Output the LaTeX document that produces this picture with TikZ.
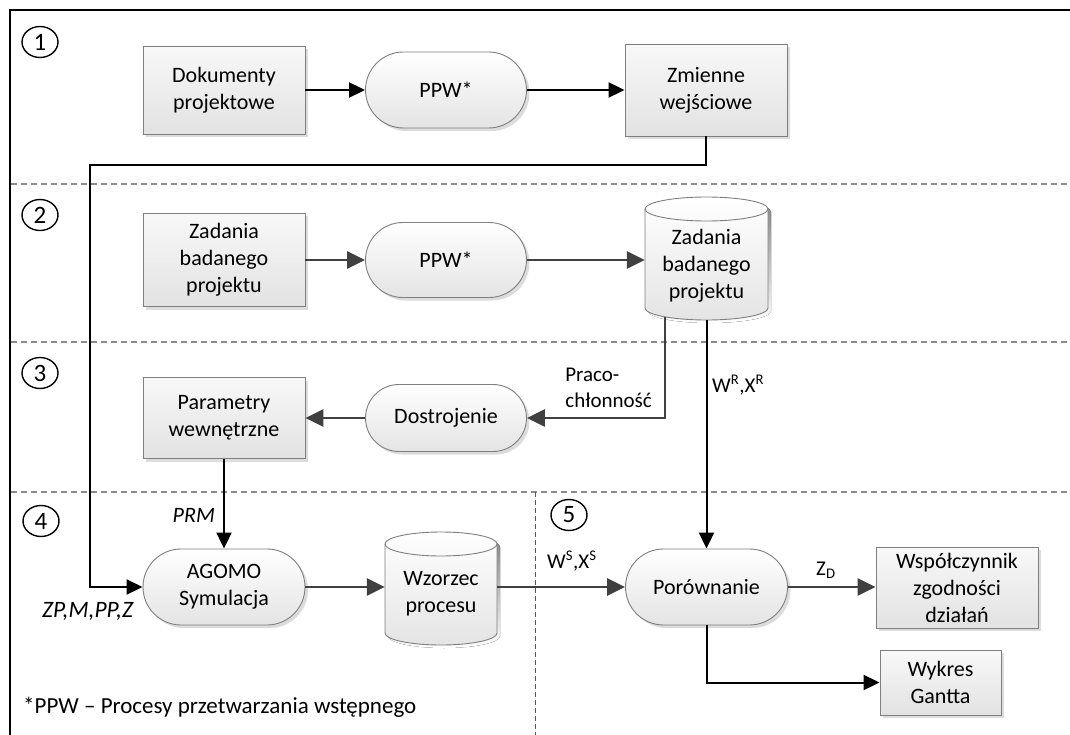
\documentclass[tikz,border=0pt]{standalone}
\usepackage{fontspec}
\setmainfont{Carlito}
\usetikzlibrary{arrows.meta,shapes.misc,shapes.geometric,shadows}

\definecolor{edge}{HTML}{7F7F7F}
\definecolor{flowgray}{HTML}{404040}
\definecolor{sep}{HTML}{8C8C8C}
\definecolor{boxtop}{HTML}{F8F8F8}
\definecolor{boxbot}{HTML}{E2E2E2}
\definecolor{termbot}{HTML}{E4E4E4}
\definecolor{shade}{HTML}{DCDCDC}

\tikzset{
  every node/.style={font=\fontsize{22}{27}\selectfont},
  softshadow/.style={drop shadow={shadow xshift=3pt, shadow yshift=-3pt, fill=shade, opacity=1}},
  procbox/.style={rectangle, draw=edge, line width=0.9pt, top color=boxtop, bottom color=boxbot,
    align=center, inner sep=0pt, softshadow},
  term/.style={rounded rectangle, draw=edge, line width=0.9pt, top color=white, bottom color=termbot,
    align=center, inner sep=0pt, softshadow},
  drum/.style={draw=edge, line width=0.9pt, top color=white, bottom color=termbot},
  anchorbox/.style={rectangle, inner sep=0pt},
  dataflow/.style={draw=flowgray, line width=2.8pt, -{Triangle[length=18pt,width=17pt]}},
  ctrlflow/.style={draw=black, line width=2pt, -{Triangle[length=16pt,width=15pt]}},
  lbl/.style={font=\fontsize{21}{26}\selectfont, inner sep=0pt},
  stage/.style={ellipse, draw, line width=1.4pt, minimum width=36pt, minimum height=31pt,
    inner sep=0pt, font=\fontsize{25}{25}\selectfont},
  lane/.style={draw=sep, line width=1.2pt, dash pattern=on 6pt off 4pt},
  vlane/.style={draw=black!65, line width=0.9pt, dash pattern=on 5pt off 3pt},
}

\begin{document}
\begin{tikzpicture}[x=1pt,y=-1pt]
\useasboundingbox (0,0) rectangle (1070,735);
\fill[white] (0,0) rectangle (1070,735);

% outer frame (continues past the page edge)
\draw[line width=2pt] (10,760) -- (10,10) -- (1090,10);

% lane separators
\draw[lane] (11,184) -- (1070,184);
\draw[lane] (11,342) -- (1070,342);
\draw[lane] (11,492) -- (1070,492);
\draw[vlane] (535,492) -- (535,735);

% stage numbers
\node[stage] (s1) at (40,42) {1};
\node[stage] (s2) at (40,215) {2};
\node[stage] (s3) at (40,373) {3};
\node[stage] (s4) at (41,521) {4};
\node[stage] (s5) at (569,515) {5};

% stage 1
\node[procbox, minimum width=162pt, minimum height=88pt] (dok) at (224,90) {Dokumenty\\projektowe};
\node[term, minimum width=161pt, minimum height=76pt] (ppwA) at (446,90) {PPW*};
\node[procbox, minimum width=162pt, minimum height=92pt] (zmi) at (706,90) {Zmienne\\wejściowe};

% stage 2
\node[procbox, minimum width=162pt, minimum height=93pt] (zad) at (224,260) {Zadania\\badanego\\projektu};
\node[term, minimum width=161pt, minimum height=75pt] (ppwB) at (446,260) {PPW*};
% data store: project tasks
\fill[shade] (648,212) -- (648,311) arc[start angle=180,end angle=360,x radius=61.5pt,y radius=12pt]
  -- (771,212) arc[start angle=0,end angle=180,x radius=61.5pt,y radius=12pt] -- cycle;
\path[drum] (645,209) -- (645,308) arc[start angle=180,end angle=360,x radius=61.5pt,y radius=12pt]
  -- (768,209) arc[start angle=0,end angle=180,x radius=61.5pt,y radius=12pt] -- cycle;
\draw[edge, line width=0.9pt] (645,209) arc[start angle=180,end angle=360,x radius=61.5pt,y radius=12pt];
\node[anchorbox, minimum width=123pt, minimum height=123pt] (cyl1) at (706.5,258.5) {};
\node[align=center, inner sep=0pt] (cyl1txt) at (706.5,266) {Zadania\\badanego\\projektu};

% stage 3
\node[procbox, minimum width=162pt, minimum height=81pt] (par) at (224,418) {Parametry\\wewnętrzne};
\node[term, minimum width=161pt, minimum height=67pt] (dos) at (446,418) {Dostrojenie};

% stage 4
\node[term, minimum width=162pt, minimum height=76pt] (ago) at (224,587) {AGOMO\\Symulacja};
% data store: process pattern
\fill[shade] (388,547) -- (388,636) arc[start angle=180,end angle=360,x radius=56pt,y radius=12pt]
  -- (500,547) arc[start angle=0,end angle=180,x radius=56pt,y radius=12pt] -- cycle;
\path[drum] (385,544) -- (385,633) arc[start angle=180,end angle=360,x radius=56pt,y radius=12pt]
  -- (497,544) arc[start angle=0,end angle=180,x radius=56pt,y radius=12pt] -- cycle;
\draw[edge, line width=0.9pt] (385,544) arc[start angle=180,end angle=360,x radius=56pt,y radius=12pt];
\node[anchorbox, minimum width=112pt, minimum height=113pt] (wzo) at (441,588.5) {};
\node[align=center, inner sep=0pt] (wzotxt) at (441,594) {Wzorzec\\procesu};

% stage 5
\node[term, minimum width=162pt, minimum height=76pt] (por) at (706.5,587) {Porównanie};
\node[procbox, minimum width=162pt, minimum height=81pt] (wsp) at (957,587.5) {Współczynnik\\zgodności\\działań};
\node[procbox, minimum width=121pt, minimum height=65pt] (gan) at (940.5,682.5) {Wykres\\Gantta};

% connectors
\coordinate (busA) at (90,165);
\draw[ctrlflow] (dok.east) -- (dok.east -| ppwA.west);
\draw[ctrlflow] (ppwA.east) -- (ppwA.east -| zmi.west);
\draw[ctrlflow] (zmi.south) |- (busA) |- (ago.west);

\draw[dataflow] (zad.east) -- (zad.east -| ppwB.west);
\draw[dataflow] (ppwB.east) -- (ppwB.east -| cyl1.west);
\draw[dataflow] ([xshift=-41.5pt,yshift=3pt]cyl1.south) |- (dos.east);
\draw[ctrlflow] (cyl1.south) -- (por.north);

\draw[dataflow] (dos.west) -- (dos.west -| par.east);
\draw[ctrlflow] (par.south) -- (ago.north);

\draw[dataflow] (ago.east) -- (ago.east -| wzo.west);
\draw[dataflow] (wzo.east |- por.west) -- (por.west);
\draw[dataflow] (por.east) -- (por.east -| wsp.west);
\draw[ctrlflow] (por.south) |- (gan.west);

% flow labels
\node[lbl, align=left, anchor=east] (lpraco) at (652,388) {Praco-\\chłonność};
\node[lbl, anchor=base west] (lwr) at (712,392) {W\textsuperscript{R},X\textsuperscript{R}};
\node[lbl, anchor=base east, font=\fontsize{22}{26}\selectfont] (lprm) at (215,522) {\itshape PRM};
\node[lbl, anchor=base west, font=\fontsize{23.5}{26}\selectfont] (lzp) at (42,617) {\itshape ZP,M,PP,Z};
\node[lbl, anchor=base west] (lws) at (547,568) {W\textsuperscript{S},X\textsuperscript{S}};
\node[lbl, anchor=base west] (lzd) at (816,575) {Z\textsubscript{D}};

% footnote
\node[anchor=base west, inner sep=0pt, font=\fontsize{23}{27}\selectfont] (note) at (23,713)
  {*PPW – Procesy przetwarzania wstępnego};
\end{tikzpicture}
\end{document}
